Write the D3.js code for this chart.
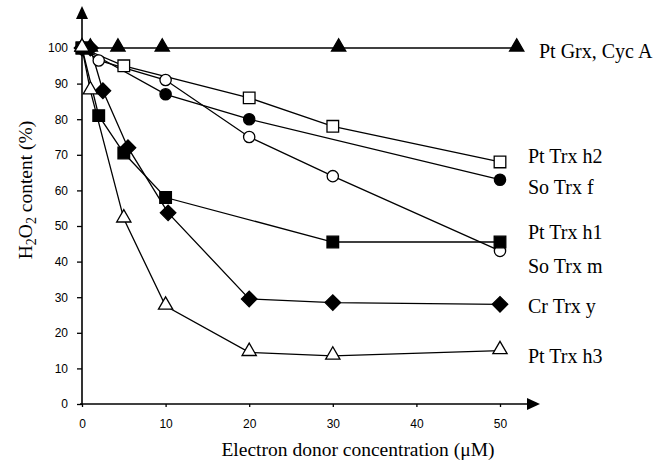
<!DOCTYPE html>
<html>
<head>
<meta charset="utf-8">
<script src="https://cdn.jsdelivr.net/npm/d3@7"></script>
<style>
  body { margin: 0; background: #fff; }
  .tick text { font-family: "Liberation Sans", Arial, sans-serif; font-size: 12px; fill: #000; }
  .lbl { font-family: "Liberation Serif", "Times New Roman", serif; font-size: 20px; fill: #000; }
  .title { font-family: "Liberation Serif", "Times New Roman", serif; font-size: 19.5px; fill: #000; }
</style>
</head>
<body>
<svg width="672" height="472"></svg>
<script>
// data
var grxX = [0, 1, 4.3, 9.6, 30.7, 52];
var grxY = [100, 100, 100, 100, 100, 100];
var h2X = [0, 5, 20, 30, 50];
var h2Y = [100, 95, 86, 78, 68];
var fX = [0, 10, 20, 50];
var fY = [100, 87, 80, 63];
var mX = [0, 2, 10, 20, 30, 50];
var mY = [100, 96.5, 91, 75, 64, 43];
var h1X = [0, 2, 5, 10, 30, 50];
var h1Y = [100, 81, 70.5, 58, 45.5, 45.5];
var yX = [0, 1, 2.5, 5.5, 10.3, 20, 30, 50];
var yY = [100, 100, 88, 72, 53.7, 29.5, 28.5, 28];
var h3X = [0, 1, 5, 10, 20, 30, 50];
var h3Y = [100, 88, 52, 27.5, 14.5, 13.5, 15];

var xTicks = [0, 10, 20, 30, 40, 50];
var yTicks = [0, 10, 20, 30, 40, 50, 60, 70, 80, 90, 100];

var series = [
  { name: "Pt Grx, Cyc A", xs: grxX, ys: grxY, shape: "triangle", fill: "#000", ly: 51, lx: 539 },
  { name: "Pt Trx h2", xs: h2X, ys: h2Y, shape: "square", fill: "#fff", ly: 156, lx: 528 },
  { name: "So Trx f", xs: fX, ys: fY, shape: "circle", fill: "#000", ly: 187, lx: 528 },
  { name: "So Trx m", xs: mX, ys: mY, shape: "circle", fill: "#fff", ly: 266, lx: 528 },
  { name: "Pt Trx h1", xs: h1X, ys: h1Y, shape: "square", fill: "#000", ly: 232, lx: 528 },
  { name: "Cr Trx y", xs: yX, ys: yY, shape: "diamond", fill: "#000", ly: 306, lx: 528 },
  { name: "Pt Trx h3", xs: h3X, ys: h3Y, shape: "triangle", fill: "#fff", ly: 356, lx: 528 }
];

var svg = d3.select("svg");

var x = d3.scaleLinear().domain([0, 50]).range([82, 500]);
var y = d3.scaleLinear().domain([0, 100]).range([404, 48]);

// axes
var xAxis = svg.append("g")
  .attr("transform", "translate(0," + y(0) + ")")
  .call(d3.axisBottom(x).tickValues(xTicks).tickSize(3).tickPadding(12));
xAxis.select(".domain").remove();
xAxis.selectAll(".tick line").attr("stroke", "#000").attr("stroke-width", 1.3);

var yAxis = svg.append("g")
  .attr("transform", "translate(" + x(0) + ",0)")
  .call(d3.axisLeft(y).tickValues(yTicks).tickSize(5).tickPadding(9));
yAxis.select(".domain").remove();
yAxis.selectAll(".tick line").attr("stroke", "#000").attr("stroke-width", 1.3);

// axis lines with arrowheads
svg.append("line")
  .attr("x1", x(0) - 2).attr("y1", y(0))
  .attr("x2", 530).attr("y2", y(0))
  .attr("stroke", "#000").attr("stroke-width", 1.6);
svg.append("path")
  .attr("d", "M540," + y(0) + " L527," + (y(0) - 6) + " L527," + (y(0) + 6) + " Z")
  .attr("fill", "#000");
svg.append("line")
  .attr("x1", x(0)).attr("y1", y(0) + 1)
  .attr("x2", x(0)).attr("y2", 16)
  .attr("stroke", "#000").attr("stroke-width", 1.6);
svg.append("path")
  .attr("d", "M" + x(0) + ",6 L" + (x(0) - 6) + ",19 L" + (x(0) + 6) + ",19 Z")
  .attr("fill", "#000");

var line = d3.line()
  .x(function(d) { return x(d[0]); })
  .y(function(d) { return y(d[1]); });

var symbols = {
  triangle: d3.symbol().type(d3.symbolTriangle).size(88),
  square: d3.symbol().type(d3.symbolSquare).size(135),
  circle: d3.symbol().type(d3.symbolCircle).size(100),
  diamond: d3.symbol().type(d3.symbolSquare).size(120)
};

series.forEach(function(s) {
  var pts = s.xs.map(function(v, i) { return [v, s.ys[i]]; });
  svg.append("path")
    .datum(pts)
    .attr("d", line)
    .attr("fill", "none")
    .attr("stroke", "#000")
    .attr("stroke-width", 1.3);
});

series.forEach(function(s) {
  var pts = s.xs.map(function(v, i) { return [v, s.ys[i]]; });
  svg.selectAll(null)
    .data(pts)
    .enter()
    .append("path")
    .attr("transform", function(d) {
      var t = "translate(" + x(d[0]) + "," + (y(d[1]) + (s.shape === "triangle" ? -1 : 0)) + ")";
      if (s.shape === "diamond") t += " rotate(45)";
      return t;
    })
    .attr("d", symbols[s.shape])
    .attr("fill", s.fill)
    .attr("stroke", "#000")
    .attr("stroke-width", 1.3);

  svg.append("text")
    .attr("class", "lbl")
    .attr("x", s.lx)
    .attr("y", s.ly)
    .attr("dy", "0.35em")
    .text(s.name);
});

// axis titles
svg.append("text")
  .attr("class", "title")
  .attr("x", 358)
  .attr("y", 456)
  .attr("text-anchor", "middle")
  .text("Electron donor concentration (\u03bcM)");

var yt = svg.append("text")
  .attr("class", "title")
  .attr("font-size", "20.5px")
  .attr("transform", "translate(32,190) rotate(-90)")
  .attr("text-anchor", "middle");
yt.append("tspan").text("H");
yt.append("tspan").attr("font-size", "14px").attr("dy", 4).text("2");
yt.append("tspan").attr("dy", -4).text("O");
yt.append("tspan").attr("font-size", "14px").attr("dy", 4).text("2");
yt.append("tspan").attr("dy", -4).text(" content (%)");
</script>
</body>
</html>
